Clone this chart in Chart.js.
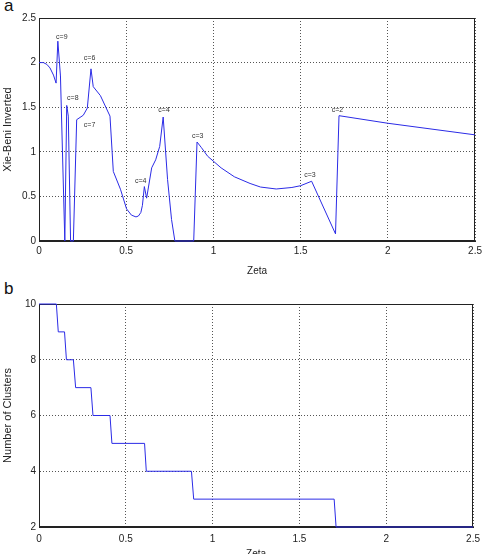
<!DOCTYPE html>
<html>
<head>
<meta charset="utf-8">
<script src="https://cdn.jsdelivr.net/npm/chart.js@4"></script>
<style>
  body { margin: 0; background: #fff; width: 486px; height: 554px; overflow: hidden; position: relative;
         font-family: "Liberation Sans", Arial, sans-serif; }
  .panel { position: absolute; left: 4px; font-size: 17px; color: #111; }
  canvas { position: absolute; left: 0; }
</style>
</head>
<body>
<div class="panel" style="top:-4px">a</div>
<div class="panel" style="top:279px">b</div>
<canvas id="chartA" width="486" height="277" style="top:0"></canvas>
<canvas id="chartB" width="486" height="283" style="top:277px"></canvas>
<script>
// panel a: inverted Xie-Beni index vs zeta
const xbZeta = [0, 0.025, 0.045, 0.063, 0.083, 0.098, 0.108, 0.123, 0.148, 0.159, 0.168, 0.181, 0.197,
  0.216, 0.254, 0.277, 0.298, 0.311, 0.352, 0.407, 0.426, 0.467, 0.502, 0.530, 0.556, 0.570, 0.584,
  0.593, 0.604, 0.617, 0.646, 0.669, 0.692, 0.712, 0.737, 0.760, 0.779, 0.887, 0.906, 0.930, 0.967,
  1.044, 1.12, 1.21, 1.27, 1.36, 1.45, 1.50, 1.563, 1.700, 1.720, 2.0, 2.5];
const xbValue = [2.0, 2.0, 1.98, 1.94, 1.86, 1.77, 2.24, 1.85, 0, 1.52, 1.40, 0, 0,
  1.36, 1.41, 1.49, 1.93, 1.73, 1.63, 1.40, 0.78, 0.58, 0.36, 0.29, 0.27, 0.28, 0.32,
  0.40, 0.61, 0.48, 0.82, 0.91, 1.06, 1.39, 0.69, 0.24, 0, 0, 1.11, 1.05, 0.95,
  0.82, 0.72, 0.645, 0.605, 0.583, 0.60, 0.62, 0.67, 0.08, 1.405, 1.32, 1.19];

const peakText = ["c=9", "c=8", "c=6", "c=7", "c=4", "c=4", "c=3", "c=3", "c=2"];
const peakZeta = [0.131, 0.194, 0.29, 0.29, 0.583, 0.717, 0.91, 1.553, 1.711];
const peakValue = [2.29, 1.60, 2.05, 1.30, 0.67, 1.47, 1.18, 0.74, 1.47];

// panel b: number of clusters vs zeta
const ncZeta = [0, 0.10, 0.111, 0.147, 0.158, 0.198, 0.211, 0.299, 0.311, 0.409, 0.42,
  0.608, 0.618, 0.878, 0.891, 1.70, 1.711, 2.5];
const ncValue = [10, 10, 9, 9, 8, 8, 7, 7, 6, 6, 5, 5, 4, 4, 3, 3, 2, 2];

const zetaTicks = [0, 0.5, 1, 1.5, 2, 2.5];

const toPoints = (xs, ys) => xs.map((x, i) => ({ x: x, y: ys[i] }));

// solid box round the plot, drawn under the curve
const frame = {
  id: 'frame',
  beforeDatasetsDraw(chart) {
    const { ctx, chartArea: a } = chart;
    ctx.save();
    ctx.strokeStyle = '#222';
    ctx.lineWidth = 1;
    ctx.strokeRect(Math.round(a.left) + 0.5, Math.round(a.top) + 0.5,
      Math.round(a.width) - 1, Math.round(a.height) - 1);
    ctx.restore();
  }
};

const peakLabels = {
  id: 'peakLabels',
  afterDatasetsDraw(chart) {
    const { ctx, scales: { x, y } } = chart;
    ctx.save();
    ctx.font = '7px "Liberation Sans", Arial, sans-serif';
    ctx.fillStyle = '#333';
    ctx.textAlign = 'center';
    ctx.textBaseline = 'middle';
    peakText.forEach((t, i) => {
      ctx.fillText(t, x.getPixelForValue(peakZeta[i]), y.getPixelForValue(peakValue[i]));
    });
    ctx.restore();
  }
};

function axes(yMin, yMax, yStep, yTitle, xHeight, xPad) {
  const tickFont = { family: '"Liberation Sans", Arial, sans-serif', size: 10 };
  const grid = { color: '#555', lineWidth: 1, drawTicks: false };
  return {
    x: {
      type: 'linear', min: 0, max: 2.5,
      afterBuildTicks: s => { s.ticks = zetaTicks.map(v => ({ value: v })); },
      afterFit: s => { s.height = xHeight; },
      ticks: { font: tickFont, color: '#222', padding: xPad, maxRotation: 0, callback: v => String(v) },
      grid: grid,
      border: { color: '#222', dash: [1, 2] },
      title: { display: true, text: 'Zeta', font: tickFont, color: '#222', padding: 0 }
    },
    y: {
      min: yMin, max: yMax,
      ticks: { stepSize: yStep, font: tickFont, color: '#222', padding: 3, callback: v => String(v) },
      afterFit: s => { s.width = 39; },
      grid: grid,
      border: { color: '#222', dash: [1, 2] },
      title: { display: true, text: yTitle, font: { family: tickFont.family, size: 11 }, color: '#222', padding: 1 }
    }
  };
}

const lineStyle = { borderColor: '#2b2be6', borderWidth: 1, pointRadius: 0, showLine: true, tension: 0, clip: 3 };

new Chart(document.getElementById('chartA'), {
  type: 'scatter',
  data: { datasets: [Object.assign({ data: toPoints(xbZeta, xbValue) }, lineStyle)] },
  options: {
    responsive: false, animation: false,
    layout: { padding: { top: 18, right: 10, left: 0, bottom: 0 } },
    plugins: { legend: { display: false }, tooltip: { enabled: false } },
    scales: axes(0, 2.5, 0.5, 'Xie-Beni Inverted', 36, 4)
  },
  plugins: [frame, peakLabels]
});

new Chart(document.getElementById('chartB'), {
  type: 'scatter',
  data: { datasets: [Object.assign({ data: toPoints(ncZeta, ncValue) }, lineStyle)] },
  options: {
    responsive: false, animation: false,
    layout: { padding: { top: 27, right: 5, left: 0, bottom: 0 } },
    plugins: { legend: { display: false }, tooltip: { enabled: false } },
    scales: axes(2, 10, 2, 'Number of Clusters', 33, 6)
  },
  plugins: [frame]
});
</script>
</body>
</html>
